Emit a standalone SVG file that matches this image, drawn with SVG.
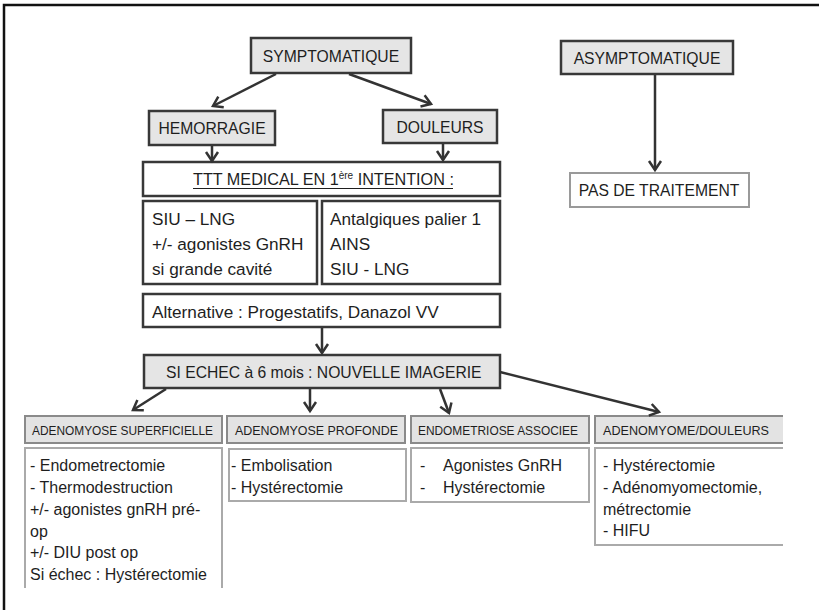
<svg xmlns="http://www.w3.org/2000/svg" width="819" height="610" viewBox="0 0 819 610">
  <style>
    text { font-family: "Liberation Sans", Arial, sans-serif; fill: #1e1e1e; }
    .main { fill: #e5e5e5; stroke: #383838; stroke-width: 2.5; }
    .plain { fill: #fff; stroke: #383838; stroke-width: 2.5; }
    .soft { fill: #fff; stroke: #9a9a9a; stroke-width: 2; }
    .hdr { fill: #e3e3e3; stroke: #8a8a8a; stroke-width: 2; }
    .hdrfill { fill: #e3e3e3; stroke: none; }
    .edge { fill: none; stroke: #8a8a8a; stroke-width: 2; }
    .edge2 { fill: none; stroke: #aaa; stroke-width: 2; }
    .t16 { font-size: 15.7px; }
    .t17 { font-size: 17.2px; }
    .t12 { font-size: 12.6px; }
    .t15 { font-size: 16px; }
    .arrow { fill: none; stroke: #333; stroke-width: 2.5; marker-end: url(#chev); }
  </style>
  <defs>
    <marker id="chev" markerUnits="userSpaceOnUse" markerWidth="20" markerHeight="20" viewBox="-12 -10 14 20" refX="0" refY="0" orient="auto">
      <path d="M-9,-6 L0,0 L-9,6" fill="none" stroke="#333" stroke-width="2.5" stroke-linejoin="miter"/>
    </marker>
  </defs>

  <rect width="819" height="610" fill="#fff"/>
  <!-- frame -->
  <path d="M4,610 V5 H819" fill="none" stroke="#111" stroke-width="2.5"/>

  <g id="symptomatique">
    <rect class="main" x="251" y="38" width="160" height="35"/>
    <text class="t16" x="331" y="62" text-anchor="middle">SYMPTOMATIQUE</text>
  </g>
  <g id="asymptomatique">
    <rect class="main" x="561" y="41" width="172" height="33"/>
    <text class="t16" x="647" y="64" text-anchor="middle">ASYMPTOMATIQUE</text>
  </g>
  <g id="hemorragie">
    <rect class="main" x="149" y="111" width="126" height="34"/>
    <text class="t16" x="212" y="134" text-anchor="middle">HEMORRAGIE</text>
  </g>
  <g id="douleurs">
    <rect class="main" x="383" y="110" width="114" height="33"/>
    <text class="t16" x="440" y="133" text-anchor="middle">DOULEURS</text>
  </g>
  <g id="pas-de-traitement">
    <rect class="soft" x="570" y="173" width="179" height="34"/>
    <text class="t16" x="659" y="196" text-anchor="middle">PAS DE TRAITEMENT</text>
  </g>
  <g id="ttt-medical">
    <rect class="plain" x="143" y="162" width="357" height="34"/>
    <text x="193" y="185" font-size="16.2">TTT MEDICAL EN 1<tspan dy="-6" font-size="10">ère</tspan><tspan dy="6"> INTENTION :</tspan></text>
    <line x1="193" y1="188.5" x2="453" y2="188.5" stroke="#1e1e1e" stroke-width="1.2"/>
  </g>
  <g id="ttt-hemorragie">
    <rect class="plain" x="143" y="201" width="174" height="83"/>
    <text class="t17" x="152" y="225">SIU – LNG</text>
    <text class="t17" x="152" y="250">+/- agonistes GnRH</text>
    <text class="t17" x="152" y="275">si grande cavité</text>
  </g>
  <g id="ttt-douleurs">
    <rect class="plain" x="322" y="201" width="178" height="83"/>
    <text class="t17" x="330" y="225">Antalgiques palier 1</text>
    <text class="t17" x="330" y="250">AINS</text>
    <text class="t17" x="330" y="275">SIU - LNG</text>
  </g>
  <g id="alternative">
    <rect class="plain" x="143" y="294" width="357" height="33"/>
    <text class="t17" x="152" y="318">Alternative : Progestatifs, Danazol VV</text>
  </g>
  <g id="si-echec">
    <rect class="main" x="144" y="355" width="356" height="33"/>
    <text class="t16" x="166" y="378">SI ECHEC à 6 mois : NOUVELLE IMAGERIE</text>
  </g>

  <g id="adenomyose-superficielle">
    <rect class="hdr" x="25" y="416" width="197" height="27"/>
    <text class="t12" x="32" y="435" textLength="181" lengthAdjust="spacingAndGlyphs">ADENOMYOSE SUPERFICIELLE</text>
    <rect x="25" y="448" width="197" height="140" fill="#fff"/>
    <path class="edge2" d="M25,588 V448 H222 V588"/>
    <text class="t15" x="30" y="471">- Endometrectomie</text>
    <text class="t15" x="30" y="493">- Thermodestruction</text>
    <text class="t15" x="30" y="515">+/- agonistes gnRH pré-</text>
    <text class="t15" x="30" y="537">op</text>
    <text class="t15" x="30" y="558">+/- DIU post op</text>
    <text class="t15" x="30" y="580">Si échec : Hystérectomie</text>
  </g>
  <g id="adenomyose-profonde">
    <rect class="hdr" x="227" y="416" width="178" height="27"/>
    <text class="t12" x="235" y="435" textLength="163" lengthAdjust="spacingAndGlyphs">ADENOMYOSE PROFONDE</text>
    <rect class="soft" x="229" y="449" width="177" height="52" style="stroke:#aaa"/>
    <text class="t15" x="231" y="471">- Embolisation</text>
    <text class="t15" x="231" y="493">- Hystérectomie</text>
  </g>
  <g id="endometriose-associee">
    <rect class="hdr" x="411" y="416" width="178" height="27"/>
    <text class="t12" x="418" y="435" textLength="160" lengthAdjust="spacingAndGlyphs">ENDOMETRIOSE ASSOCIEE</text>
    <rect class="soft" x="411" y="448" width="178" height="54" style="stroke:#aaa"/>
    <text class="t15" x="420" y="471">-</text>
    <text class="t15" x="443" y="471">Agonistes GnRH</text>
    <text class="t15" x="420" y="493">-</text>
    <text class="t15" x="443" y="493">Hystérectomie</text>
  </g>
  <g id="adenomyome-douleurs">
    <rect class="hdrfill" x="595" y="416" width="188" height="27"/>
    <path class="edge" d="M783,416 H595 V443 H783"/>
    <text class="t12" x="603" y="435" textLength="166" lengthAdjust="spacingAndGlyphs">ADENOMYOME/DOULEURS</text>
    <path class="edge2" d="M783,448 H595 V545 H783"/>
    <text class="t15" x="603" y="471">- Hystérectomie</text>
    <text class="t15" x="603" y="493">- Adénomyomectomie,</text>
    <text class="t15" x="603" y="515">métrectomie</text>
    <text class="t15" x="603" y="536">- HIFU</text>
  </g>

  <g id="connectors">
    <line class="arrow" x1="276" y1="74" x2="213" y2="106"/>
    <line class="arrow" x1="349" y1="74" x2="431" y2="104"/>
    <line class="arrow" x1="212" y1="146" x2="212" y2="161"/>
    <line class="arrow" x1="443" y1="144" x2="443" y2="160"/>
    <line class="arrow" x1="655" y1="75" x2="655" y2="170"/>
    <line class="arrow" x1="322" y1="328" x2="322" y2="353"/>
    <line class="arrow" x1="166" y1="389" x2="133" y2="410"/>
    <line class="arrow" x1="310" y1="389" x2="310" y2="411"/>
    <line class="arrow" x1="440" y1="389" x2="449" y2="413"/>
    <line class="arrow" x1="500" y1="372" x2="659" y2="412"/>
  </g>
</svg>
